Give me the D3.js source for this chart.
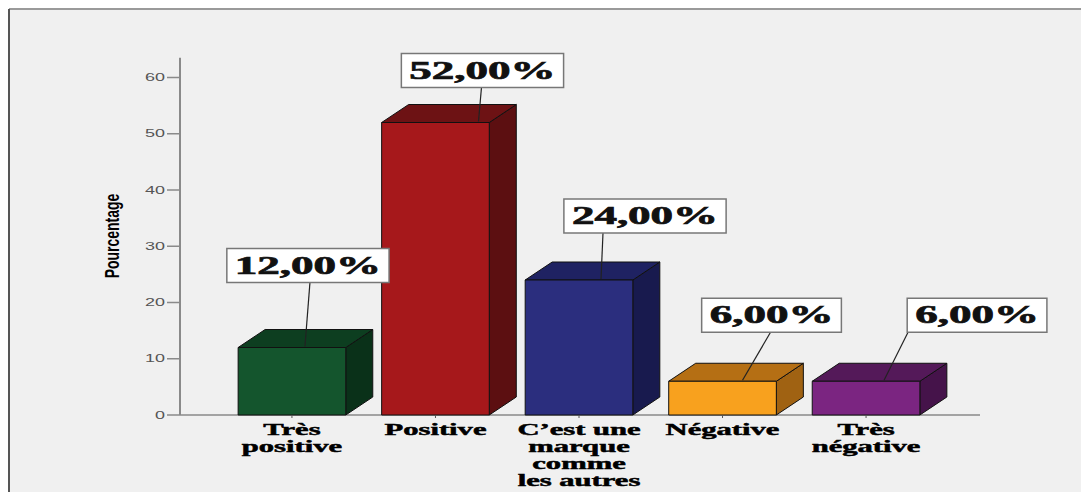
<!DOCTYPE html>
<html>
<head>
<meta charset="utf-8">
<script src="https://cdn.jsdelivr.net/npm/d3@7"></script>
<style>
  html, body { margin: 0; padding: 0; background: #ffffff; }
  svg { display: block; }
</style>
</head>
<body>
<svg id="chart" width="1081" height="492"></svg>
<script>
// Categories (each may break over several lines) and their percentages
const categories = ["Très positive", "Positive", "C’est une marque comme les autres", "Négative", "Très négative"];
const categoryLines = [["Très", "positive"], ["Positive"], ["C’est une", "marque", "comme", "les autres"], ["Négative"], ["Très", "négative"]];
const percentages = [12, 52, 24, 6, 6];
const valueLabels = ["12,00%", "52,00%", "24,00%", "6,00%", "6,00%"];
const yTicks = [0, 10, 20, 30, 40, 50, 60];
const yTitle = "Pourcentage";

// Fill colours per bar: front face, top face, side face
const frontColors = ["#14552d", "#a6181b", "#2b2e7e", "#f8a11e", "#7b2581"];
const topColors   = ["#0d3e20", "#6d1214", "#1f2262", "#b56f14", "#541959"];
const sideColors  = ["#0a3119", "#5c0f11", "#181a4e", "#a06212", "#45134a"];

// Callout placement relative to each bar: box centre offset, gap above bar top,
// leader line start / end x offsets
const calloutDx   = [16, 47, 66, 49, 111];
const calloutGap  = [65, 35, 47, 49, 49];
const leaderTopDx = [18, 46, 24, 48, 42];
const leaderBotDx = [13, 43, 22, 20, 18];

const svg = d3.select("#chart");
const W = 1081, H = 492;
const SX = 1.8;          // horizontal stretch applied to all text
const depthX = 27, depthY = 18;

// frame
svg.append("rect").attr("x", 9).attr("y", 9).attr("width", W).attr("height", H)
  .attr("fill", "#f0f0f0");
svg.append("line").attr("x1", 9).attr("x2", W).attr("y1", 9).attr("y2", 9)
  .attr("stroke", "#9a9a9a").attr("stroke-width", 2);
svg.append("line").attr("x1", 9).attr("x2", 9).attr("y1", 9).attr("y2", H)
  .attr("stroke", "#555").attr("stroke-width", 2);

const x = d3.scaleBand().domain(categories).range([180, 978])
  .paddingInner(0.25).paddingOuter(0.405);
const y = d3.scaleLinear().domain([0, 60]).range([415, 77.5]);

// stretched text helper
function stext(g, tx, ty, str, opts) {
  const t = g.append("text")
    .attr("transform", `translate(${tx},${ty}) scale(${opts.sx || SX},1)${opts.rotate ? " rotate(" + opts.rotate + ")" : ""}`)
    .attr("text-anchor", opts.anchor || "middle")
    .attr("font-family", opts.family)
    .attr("font-size", opts.size)
    .attr("font-weight", opts.weight || "normal")
    .attr("fill", opts.fill || "#000")
    .text(str);
  if (opts.heavy) t.attr("stroke", opts.fill || "#000").attr("stroke-width", opts.heavy);
  return t;
}

// y axis
const yAxis = svg.append("g");
yAxis.append("line").attr("x1", 180).attr("x2", 180).attr("y1", y(63.5)).attr("y2", y(0))
  .attr("stroke", "#8a8a8a").attr("stroke-width", 2);
yTicks.forEach(t => {
  yAxis.append("line").attr("x1", 167).attr("x2", 180).attr("y1", y(t)).attr("y2", y(t))
    .attr("stroke", "#8a8a8a").attr("stroke-width", 1.5);
  stext(yAxis, 165, y(t) + 3.5, String(t), { anchor: "end", family: "Liberation Sans, Arial, sans-serif", size: 10, fill: "#555" });
});
stext(svg, 119, 236, yTitle, { rotate: -90, family: "Liberation Sans, Arial, sans-serif", size: 14, weight: "bold", sx: 1.5 });

// x baseline
svg.append("line").attr("x1", 180).attr("x2", 980).attr("y1", y(0)).attr("y2", y(0))
  .attr("stroke", "#8a8a8a").attr("stroke-width", 1.5);

// 3D bars
const bars = svg.append("g");
categories.forEach((c, i) => {
  const x0 = x(c), x1 = x0 + x.bandwidth();
  const y0 = y(0), yt = y(percentages[i]);
  const g = bars.append("g").attr("stroke", "#111").attr("stroke-width", 1).attr("stroke-linejoin", "round");
  // side face
  g.append("path").attr("fill", sideColors[i])
    .attr("d", `M${x1},${yt}L${x1 + depthX},${yt - depthY}L${x1 + depthX},${y0 - depthY}L${x1},${y0}Z`);
  // top face
  g.append("path").attr("fill", topColors[i])
    .attr("d", `M${x0},${yt}L${x0 + depthX},${yt - depthY}L${x1 + depthX},${yt - depthY}L${x1},${yt}Z`);
  // front face
  g.append("rect").attr("fill", frontColors[i])
    .attr("x", x0).attr("y", yt).attr("width", x1 - x0).attr("height", y0 - yt);
  // tick below the bar
  svg.append("line").attr("x1", x0 + x.bandwidth() / 2).attr("x2", x0 + x.bandwidth() / 2)
    .attr("y1", y0).attr("y2", y0 + 3).attr("stroke", "#555");
});

// category labels
categories.forEach((c, i) => {
  const cx = x(c) + x.bandwidth() / 2;
  categoryLines[i].forEach((ln, k) => {
    stext(svg, cx, 435 + k * 17, ln, { family: "Liberation Serif, Times New Roman, serif", size: 17, weight: "bold", heavy: 0.5 });
  });
});

// value callouts
const callouts = svg.append("g");
categories.forEach((c, i) => {
  const cx = x(c) + x.bandwidth() / 2;
  const yt = y(percentages[i]);
  const boxBottom = yt - calloutGap[i];
  const boxH = 34;
  const bcx = cx + calloutDx[i];
  const g = callouts.append("g");
  g.append("line")
    .attr("x1", cx + leaderTopDx[i]).attr("y1", boxBottom)
    .attr("x2", cx + leaderBotDx[i]).attr("y2", yt - 1)
    .attr("stroke", "#222").attr("stroke-width", 1.2);
  const box = g.append("rect").attr("fill", "#fff").attr("stroke", "#777").attr("stroke-width", 1.5);
  const t = stext(g, bcx, boxBottom - 9, valueLabels[i], { family: "Liberation Serif, Times New Roman, serif", size: 25, weight: "bold", fill: "#111", heavy: 0.7 });
  const tw = t.node().getComputedTextLength() * SX;
  const bw = tw + 16;
  box.attr("x", bcx - bw / 2).attr("y", boxBottom - boxH).attr("width", bw).attr("height", boxH);
});
</script>
</body>
</html>
